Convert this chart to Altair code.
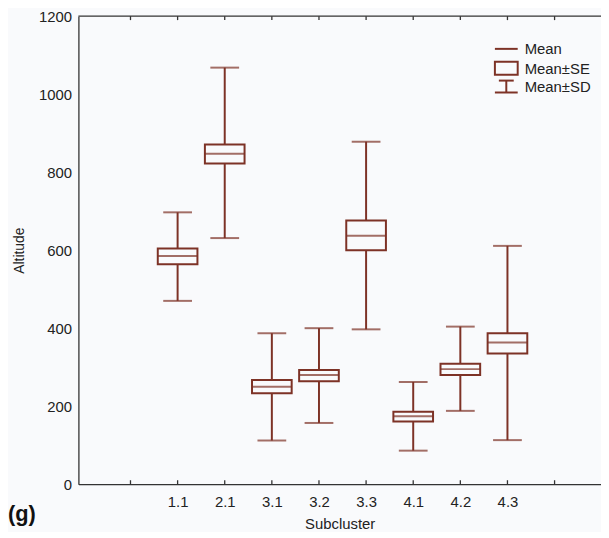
import altair as alt
import pandas as pd

# ---- data ----
subclusters = ["1.1", "2.1", "3.1", "3.2", "3.3", "4.1", "4.2", "4.3"]
means = [585, 847, 250, 280, 637, 174, 295, 363]
se_low = [564, 822, 233, 264, 600, 161, 280, 335]
se_high = [604, 871, 267, 293, 676, 186, 309, 387]
sd_low = [470, 631, 112, 157, 397, 86, 188, 113]
sd_high = [697, 1068, 387, 400, 878, 262, 404, 611]
axis_tick_positions = [1, 2, 3, 4, 5, 6, 7, 8, 9, 10]
y_tick_values = [0, 200, 400, 600, 800, 1000, 1200]

positions = [i + 2 for i in range(len(subclusters))]
df = pd.DataFrame({
    "sub": subclusters, "pos": positions, "mean": means,
    "se_lo": se_low, "se_hi": se_high, "sd_lo": sd_low, "sd_hi": sd_high,
})
ticks_df = pd.DataFrame({"t": axis_tick_positions})

W, H = 527, 472
X_MAX = 10.88
LINE = "#7d3226"
AX = "#333333"
BG = "#f9fafc"
FONT = "Liberation Sans"

label_arr = ["", ""] + subclusters
label_expr = "[" + ",".join("'%s'" % s for s in label_arr) + "][datum.value]"

xscale = alt.Scale(domain=[0, X_MAX], nice=False, zero=False)
yscale = alt.Scale(domain=[0, 1200], nice=False)
xaxis = alt.Axis(values=positions, labelExpr=label_expr, title="Subcluster",
                 ticks=False, grid=False, domainColor=AX, domainWidth=1.3,
                 labelPadding=10, labelFontSize=15, labelColor="#222",
                 titleFontSize=15, titleFontWeight="normal", titleColor="#222",
                 titlePadding=8, labelFont=FONT, titleFont=FONT)
yaxis = alt.Axis(values=y_tick_values, format="d", title="Altitude", ticks=False,
                 grid=False, domainColor=AX, domainWidth=1.3, labelPadding=7,
                 labelFontSize=15, labelColor="#222", titleFontSize=14,
                 titleFontWeight="normal", titleColor="#222", titlePadding=12,
                 labelFont=FONT, titleFont=FONT)


def X(field):
    return alt.X(field, type="quantitative", scale=xscale, axis=xaxis)


def Y(field):
    return alt.Y(field, type="quantitative", scale=yscale, axis=yaxis)


base = alt.Chart(df)

whisker = base.mark_rule(color=LINE, strokeWidth=2).encode(
    x=X("pos"), y=Y("sd_lo"), y2="sd_hi")
cap_lo = base.mark_tick(orient="horizontal", size=29, thickness=2, color=LINE).encode(
    x=X("pos"), y=Y("sd_lo"))
cap_hi = base.mark_tick(orient="horizontal", size=29, thickness=2, color=LINE).encode(
    x=X("pos"), y=Y("sd_hi"))
box = base.mark_bar(size=40, fill=BG, stroke=LINE, strokeWidth=2).encode(
    x=X("pos"), y=Y("se_lo"), y2="se_hi")
mean_line = base.mark_tick(orient="horizontal", size=40, thickness=2, color=LINE).encode(
    x=X("pos"), y=Y("mean"))

tick_bottom = alt.Chart(ticks_df).mark_rule(color=AX, strokeWidth=1.3).encode(
    x=X("t"), y=alt.value(H), y2=alt.value(H - 4))
tick_top = alt.Chart(ticks_df).mark_rule(color=AX, strokeWidth=1.3).encode(
    x=X("t"), y=alt.value(0), y2=alt.value(4))

one = pd.DataFrame({"k": [0]})
top_line = alt.Chart(one).mark_rule(color=AX, strokeWidth=1.3).encode(
    x=alt.value(0), x2=alt.value(W), y=alt.value(0))

# legend
leg_mean = alt.Chart(one).mark_rule(color=LINE, strokeWidth=2).encode(
    x=alt.value(420), x2=alt.value(443), y=alt.value(33))
leg_box = alt.Chart(one).mark_rect(fill=BG, stroke=LINE, strokeWidth=2).encode(
    x=alt.value(420), x2=alt.value(443), y=alt.value(46), y2=alt.value(59))
leg_sd_stem = alt.Chart(one).mark_rule(color=LINE, strokeWidth=2).encode(
    x=alt.value(431.5), y=alt.value(65), y2=alt.value(77))
leg_sd_top = alt.Chart(one).mark_rule(color=LINE, strokeWidth=2).encode(
    x=alt.value(424), x2=alt.value(439), y=alt.value(65))
leg_sd_bot = alt.Chart(one).mark_rule(color=LINE, strokeWidth=2).encode(
    x=alt.value(420), x2=alt.value(443), y=alt.value(77))

legend_labels = ["Mean", "Mean\u00b1SE", "Mean\u00b1SD"]
legend_y = [33, 53, 71]
leg_text = [
    alt.Chart(pd.DataFrame({"label": [lab]})).mark_text(
        align="left", baseline="middle", fontSize=15, font=FONT, color="#222"
    ).encode(x=alt.value(450), y=alt.value(yy), text="label:N")
    for lab, yy in zip(legend_labels, legend_y)
]

panel_label = alt.Chart(pd.DataFrame({"label": ["(g)"]})).mark_text(
    align="left", baseline="middle", fontSize=22, fontWeight="bold", font=FONT, color="#111"
).encode(x=alt.value(-71), y=alt.value(502), text="label:N")

chart = alt.layer(
    whisker, cap_lo, cap_hi, box, mean_line,
    tick_bottom, tick_top, top_line,
    leg_mean, leg_box, leg_sd_stem, leg_sd_top, leg_sd_bot, *leg_text,
    panel_label,
).properties(
    width=W, height=H,
    autosize=alt.AutoSizeParams(type="none"),
    padding={"left": 71, "top": 6, "right": 0, "bottom": 46},
).configure(background=BG).configure_view(stroke=None)

chart.save("out.html", embed_options={"renderer": "svg", "actions": False})
